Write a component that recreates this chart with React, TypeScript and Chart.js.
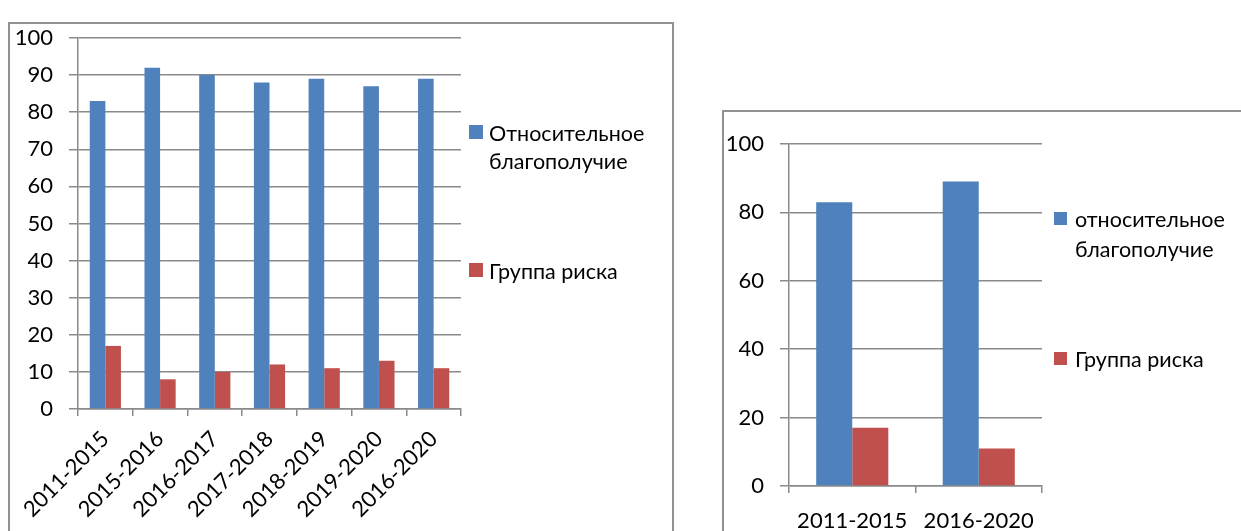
import React, { useEffect, useRef } from 'react';
import { Chart, registerables } from 'chart.js';

Chart.register(...registerables);

// ---------- data ----------
const periodsAll = ['2011-2015', '2015-2016', '2016-2017', '2017-2018', '2018-2019', '2019-2020', '2016-2020'];
const wellbeingAll = [83, 92, 90, 88, 89, 87, 89];
const riskAll = [17, 8, 10, 12, 11, 13, 11];
const seriesNamesAll = ['Относительное благополучие', 'Группа риска'];
const yMaxAll = 100;
const yStepAll = 10;

const periodsSummary = ['2011-2015', '2016-2020'];
const wellbeingSummary = [83, 89];
const riskSummary = [17, 11];
const seriesNamesSummary = ['относительное благополучие', 'Группа риска'];
const yMaxSummary = 100;
const yStepSummary = 20;

// ---------- style ----------
const BLUE = '#4F81BD';
const RED = '#C0504D';
const GRID = '#8a8a8a';
const FONT = "Lato, 'Open Sans', 'Noto Sans', sans-serif";

type Area = { left: number; top: number; right: number; bottom: number };
type LegendCfg = { tops: number[]; gap: number; box: number; textGap: number; fontSize: number; lineHeight: number; maxWidth: number };

function wrapText(ctx: CanvasRenderingContext2D, text: string, maxWidth: number): string[] {
  const words = text.split(' ');
  const lines: string[] = [];
  let cur = '';
  for (const w of words) {
    const test = cur ? cur + ' ' + w : w;
    if (cur && ctx.measureText(test).width > maxWidth) {
      lines.push(cur);
      cur = w;
    } else {
      cur = test;
    }
  }
  if (cur) lines.push(cur);
  return lines;
}

function makeLegend(cfg: LegendCfg) {
  return {
    id: 'sideLegend',
    afterDraw(chart: any) {
      const ctx: CanvasRenderingContext2D = chart.ctx;
      const area = chart.chartArea;
      ctx.save();
      ctx.font = `${cfg.fontSize}px ${FONT}`;
      ctx.textBaseline = 'middle';
      ctx.textAlign = 'left';
      chart.data.datasets.forEach((ds: any, i: number) => {
        const x = area.right + cfg.gap;
        const top = cfg.tops[i];
        ctx.fillStyle = ds.backgroundColor;
        ctx.fillRect(x, top, cfg.box, cfg.box);
        ctx.fillStyle = '#000';
        const lines = wrapText(ctx, ds.label, cfg.maxWidth);
        lines.forEach((ln, j) => {
          ctx.fillText(ln, x + cfg.box + cfg.textGap, top + cfg.box / 2 + 2 + j * cfg.lineHeight);
        });
      });
      ctx.restore();
    },
  };
}

type Props = {
  labels: string[];
  a: number[];
  b: number[];
  names: string[];
  yMax: number;
  yStep: number;
  left: number;
  top: number;
  width: number;
  height: number;
  area: Area;
  rotate: number;
  xPad: number;
  legend: LegendCfg;
  fontSize: number;
};

function BarChart(p: Props) {
  const ref = useRef<HTMLCanvasElement | null>(null);
  useEffect(() => {
    if (!ref.current) return;
    const chart = new Chart(ref.current, {
      type: 'bar',
      data: {
        labels: p.labels,
        datasets: [
          { label: p.names[0], data: p.a, backgroundColor: BLUE, categoryPercentage: 0.57, barPercentage: 1 },
          { label: p.names[1], data: p.b, backgroundColor: RED, categoryPercentage: 0.57, barPercentage: 1 },
        ],
      },
      options: {
        responsive: false,
        animation: false,
        layout: {
          padding: { left: 0, top: p.area.top, right: p.width - p.area.right, bottom: 0 },
        },
        plugins: {
          legend: { display: false },
          tooltip: { enabled: false },
          title: { display: false },
        },
        scales: {
          x: {
            grid: { drawOnChartArea: false, drawTicks: true, tickLength: 7, color: GRID, lineWidth: 1.5, offset: true },
            border: { display: true, color: GRID, width: 1.5 },
            ticks: {
              color: '#000',
              font: { family: FONT, size: p.fontSize },
              padding: p.xPad,
              minRotation: p.rotate,
              maxRotation: p.rotate,
              autoSkip: false,
            },
            afterFit: (s: any) => {
              s.height = p.height - p.area.bottom;
            },
          },
          y: {
            min: 0,
            max: p.yMax,
            grid: { color: GRID, lineWidth: 1.5, tickLength: 9, drawTicks: true },
            border: { display: true, color: GRID, width: 1.5 },
            ticks: {
              stepSize: p.yStep,
              color: '#000',
              font: { family: FONT, size: p.fontSize },
              padding: 16,
            },
            afterFit: (s: any) => {
              s.width = p.area.left;
            },
          },
        },
      },
      plugins: [makeLegend(p.legend)],
    });
    return () => chart.destroy();
  }, []);
  return (
    <canvas
      ref={ref}
      width={p.width}
      height={p.height}
      style={{ position: 'absolute', left: p.left, top: p.top, width: p.width, height: p.height }}
    />
  );
}

export default function App() {
  return (
    <div style={{ position: 'fixed', left: 0, top: 0, width: 1241, height: 531, overflow: 'hidden', background: '#fff' }}>
      <div style={{ position: 'absolute', left: 8, top: 22, width: 666, height: 560, border: '2px solid #929292', boxSizing: 'border-box' }} />
      <div style={{ position: 'absolute', left: 722, top: 110, width: 600, height: 500, border: '2px solid #929292', boxSizing: 'border-box' }} />
      <BarChart
        labels={periodsAll}
        a={wellbeingAll}
        b={riskAll}
        names={seriesNamesAll}
        yMax={yMaxAll}
        yStep={yStepAll}
        left={10}
        top={0}
        width={660}
        height={531}
        area={{ left: 68, top: 38, right: 451, bottom: 409 }}
        rotate={45}
        xPad={10}
        fontSize={22}
        legend={{ tops: [125, 263], gap: 8, box: 14, textGap: 6, fontSize: 21.5, lineHeight: 28, maxWidth: 180 }}
      />
      <BarChart
        labels={periodsSummary}
        a={wellbeingSummary}
        b={riskSummary}
        names={seriesNamesSummary}
        yMax={yMaxSummary}
        yStep={yStepSummary}
        left={724}
        top={112}
        width={517}
        height={419}
        area={{ left: 65, top: 32, right: 318, bottom: 374 }}
        rotate={0}
        xPad={15}
        fontSize={22}
        legend={{ tops: [100, 240], gap: 12, box: 13, textGap: 8, fontSize: 21.5, lineHeight: 30, maxWidth: 175 }}
      />
    </div>
  );
}
